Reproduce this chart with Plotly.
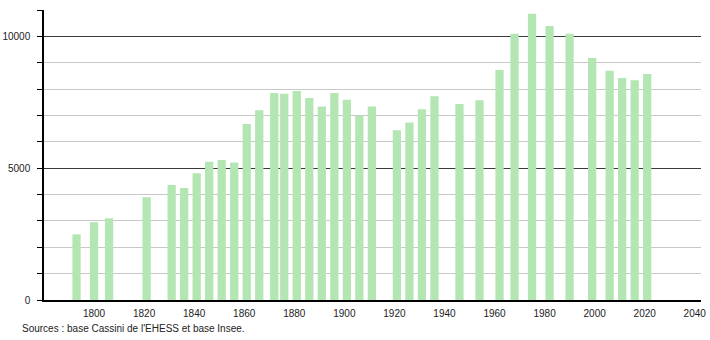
import plotly.graph_objects as go

years = [1793, 1800, 1806, 1821, 1831, 1836, 1841, 1846, 1851, 1856, 1861, 1866,
         1872, 1876, 1881, 1886, 1891, 1896, 1901, 1906, 1911, 1921, 1926, 1931,
         1936, 1946, 1954, 1962, 1968, 1975, 1982, 1990, 1999, 2006, 2011, 2016, 2021]
population = [2490, 2950, 3100, 3900, 4360, 4250, 4810, 5240, 5310, 5220, 6680, 7200,
              7850, 7820, 7930, 7660, 7340, 7850, 7600, 7000, 7340, 6440, 6730, 7240,
              7730, 7430, 7580, 8720, 10100, 10860, 10390, 10100, 9180, 8700, 8420, 8340, 8570]
x_ticks = [1800, 1820, 1840, 1860, 1880, 1900, 1920, 1940, 1960, 1980, 2000, 2020, 2040]
y_ticks = [0, 5000, 10000]
source_text = "Sources : base Cassini de l'EHESS et base Insee."

W, H = 710, 340
ml, mr, mt, mb = 44, 9, 10, 40

fig = go.Figure()
fig.add_trace(go.Bar(
    x=years, y=population, width=3.3,
    marker=dict(color="#b3e6b3", line=dict(width=0)),
    hoverinfo="x+y",
))

fig.update_layout(
    width=W, height=H,
    margin=dict(l=ml, r=mr, t=mt, b=mb, autoexpand=False),
    paper_bgcolor="white", plot_bgcolor="white",
    showlegend=False,
    font=dict(family="Liberation Sans, Arial, sans-serif", size=10, color="#222"),
    xaxis=dict(
        range=[1780, 2042.5],
        tickvals=x_ticks,
        ticktext=[str(v) for v in x_ticks],
        showgrid=False, zeroline=False,
        showline=True, linecolor="black", linewidth=1.5,
        ticks="", ticklabelstandoff=3, automargin=False,
    ),
    yaxis=dict(
        range=[0, 11000],
        tickvals=y_ticks,
        ticktext=[str(v) for v in y_ticks],
        showgrid=True, gridcolor="#3a3a3a", gridwidth=1,
        zeroline=False,
        showline=True, linecolor="black", linewidth=1.5,
        ticks="outside", ticklen=5, tickcolor="black",
        ticklabelstandoff=5, automargin=False,
        minor=dict(dtick=1000, showgrid=True, gridcolor="#c8c8c8", gridwidth=1,
                   ticks="outside", ticklen=5, tickcolor="black"),
    ),
    annotations=[dict(
        text=source_text, xref="paper", yref="paper",
        x=(20 - ml) / (W - ml - mr), y=-(328 - (H - mb)) / (H - mt - mb),
        xanchor="left", yanchor="middle", showarrow=False,
        font=dict(size=10, color="#222"),
    )],
)

fig.write_html("out.html")
